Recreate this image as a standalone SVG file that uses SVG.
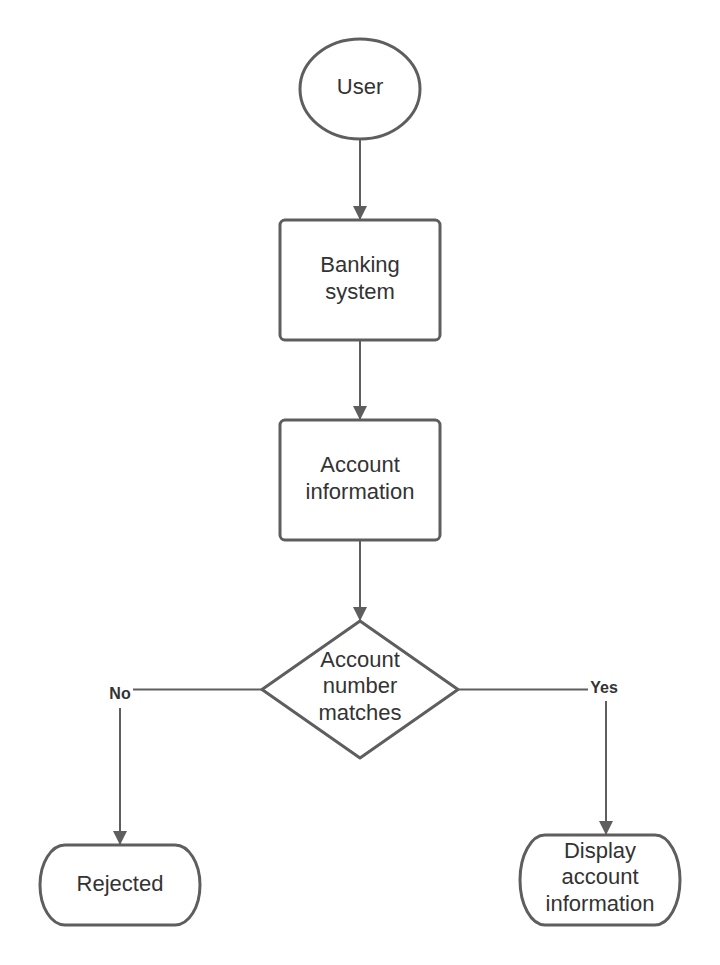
<svg xmlns="http://www.w3.org/2000/svg" width="720" height="965" viewBox="0 0 720 965">
<style>
.shape{fill:#ffffff;stroke:#5e5e5e;stroke-width:3}
.conn{fill:none;stroke:#5e5e5e;stroke-width:2}
.t{font-family:"Liberation Sans",Arial,sans-serif;font-size:22px;fill:#333333;text-anchor:middle}
.lbl{font-family:"Liberation Sans",Arial,sans-serif;font-size:16px;font-weight:bold;fill:#333333;text-anchor:middle}
</style>
<defs>
<marker id="arr" markerUnits="userSpaceOnUse" markerWidth="14" markerHeight="16" refX="13" refY="7" orient="auto">
<path d="M0,0 L14,7 L0,14 Z" fill="#5e5e5e"/>
</marker>
</defs>
<rect width="720" height="965" fill="#ffffff"/>
<g id="connectors">
<line class="conn" x1="360" y1="140" x2="360" y2="219" marker-end="url(#arr)"/>
<line class="conn" x1="360" y1="341" x2="360" y2="419" marker-end="url(#arr)"/>
<line class="conn" x1="360" y1="541" x2="360" y2="620" marker-end="url(#arr)"/>
<line class="conn" x1="262" y1="689.5" x2="133" y2="689.5"/>
<line class="conn" x1="120" y1="708" x2="120" y2="844" marker-end="url(#arr)"/>
<line class="conn" x1="458" y1="689.5" x2="588" y2="689.5"/>
<line class="conn" x1="606" y1="701" x2="606" y2="834" marker-end="url(#arr)"/>
<text class="lbl" x="120" y="699">No</text>
<text class="lbl" x="604" y="693">Yes</text>
</g>
<g id="user">
<ellipse class="shape" cx="360" cy="89" rx="60" ry="50"/>
<text class="t" x="360" y="94">User</text>
</g>
<g id="banking">
<rect class="shape" x="280" y="220" width="160" height="120" rx="5"/>
<text class="t" x="360" y="272">Banking</text>
<text class="t" x="360" y="299">system</text>
</g>
<g id="account">
<rect class="shape" x="280" y="420" width="160" height="120" rx="5"/>
<text class="t" x="360" y="472">Account</text>
<text class="t" x="360" y="499">information</text>
</g>
<g id="decision">
<path class="shape" d="M360,621 L458,689.5 L360,758 L262,689.5 Z" stroke-linejoin="round"/>
<text class="t" x="360" y="667">Account</text>
<text class="t" x="360" y="693">number</text>
<text class="t" x="360" y="720">matches</text>
</g>
<g id="rejected">
<rect class="shape" x="40" y="845" width="160" height="80" rx="25" ry="40"/>
<text class="t" x="120" y="891">Rejected</text>
</g>
<g id="display">
<rect class="shape" x="520" y="835" width="160" height="90" rx="25" ry="45"/>
<text class="t" x="600" y="858">Display</text>
<text class="t" x="600" y="884">account</text>
<text class="t" x="600" y="911">information</text>
</g>
</svg>
